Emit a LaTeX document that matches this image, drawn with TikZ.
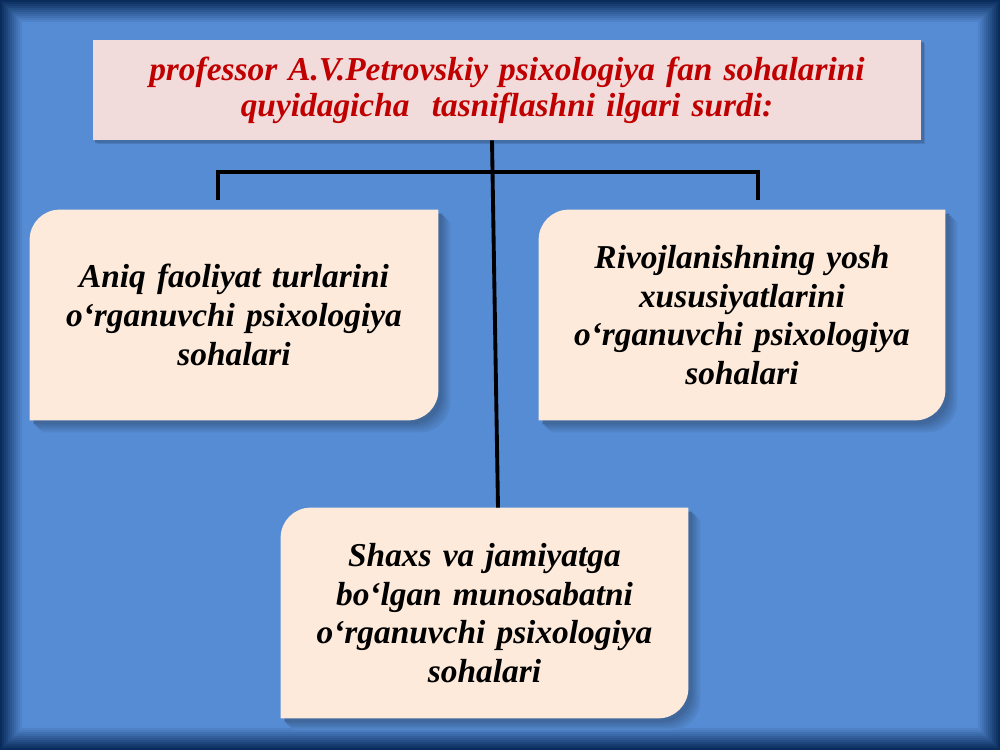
\documentclass[tikz,border=0pt]{standalone}
\usepackage{fontspec}
\setmainfont{Liberation Serif}
\usetikzlibrary{positioning,calc,backgrounds}
\pgfdeclarelayer{ramka}
\pgfsetlayers{ramka,background,main}
\definecolor{fonko}{HTML}{568CD4}
\definecolor{chetko}{HTML}{0A2C5C}
\definecolor{sarlavha}{HTML}{F2DCDB}
\definecolor{qizil}{HTML}{C00000}
\definecolor{krem}{HTML}{FDEADA}
\tikzstyle{sarlavhabox} = [rectangle, fill=sarlavha, minimum width=16.56cm, minimum height=2cm, text width=16cm, align=center, text=qizil, font=\fontsize{19}{20.5}\selectfont\bfseries\itshape]
\tikzstyle{sohabox} = [rectangle, minimum width=8.14cm, minimum height=4.2cm, text width=7.8cm, align=center, font=\fontsize{19}{22}\selectfont\bfseries\itshape]
\tikzstyle{connect} = [line width=2.2pt, black]
% krem fon: chap-yuqori va o'ng-pastki burchaklari yumaloq
\newcommand{\sohashakl}[1]{(#1.south west) -- ($(#1.north west)+(0,-0.6)$) arc[start angle=180, end angle=90, radius=0.6]
    -- (#1.north east) -- ($(#1.south east)+(0,0.6)$) arc[start angle=0, end angle=-90, radius=0.6] -- cycle}
\newcommand{\sohafon}[1]{%
  \foreach \s/\k in {0.24/94,0.2/89,0.16/84,0.12/79,0.08/74}
    \fill[fonko!\k!black, transform canvas={xshift=\s cm, yshift=-\s cm}] \sohashakl{#1};
  \fill[krem] \sohashakl{#1};}

\begin{document}
\begin{tikzpicture}
\useasboundingbox (0,0) rectangle (20,15);
% ramka
\begin{pgfonlayer}{ramka}
  \foreach \i [evaluate=\i as \pr using {int(min(100,\i*9))}] in {0,...,12}
    \fill[fonko!\pr!chetko] (0.04*\i,0.04*\i) rectangle (20-0.04*\i,15-0.04*\i);
\end{pgfonlayer}

\node (title) [sarlavhabox] at (10.14,13.2) {professor A.V.Petrovskiy psixologiya fan sohalarini\\ quyidagicha\ \ tasniflashni ilgari surdi:};
\node (aniq) [sohabox, minimum width=8.16cm] at (4.68,8.7) {Aniq faoliyat turlarini\\ o‘rganuvchi psixologiya\\ sohalari};
\node (rivoj) [sohabox, minimum width=8.12cm] at (14.84,8.7) {Rivojlanishning yosh\\ xususiyatlarini\\ o‘rganuvchi psixologiya\\ sohalari};
\node (shaxs) [sohabox] at (9.69,2.74) {Shaxs va jamiyatga\\ bo‘lgan munosabatni\\ o‘rganuvchi psixologiya\\ sohalari};

\begin{scope}[on background layer]
  \foreach \s/\k in {0.08/88,0.05/78}
    \fill[fonko!\k!black, transform canvas={xshift=\s cm, yshift=-\s cm}] (title.south west) rectangle (title.north east);
  \sohafon{aniq}
  \sohafon{rivoj}
  \sohafon{shaxs}
\end{scope}

\coordinate (chapust) at (4.36,11.56);
\coordinate (ongust) at (15.16,11.56);
\coordinate (chappast) at (4.36,11.0);
\coordinate (ongpast) at (15.16,11.0);

\draw [connect] (chappast) -- (chapust) -- (ongust) -- (ongpast);
\draw [connect] ([xshift=-0.3cm]title.south) -- ([xshift=0.27cm]shaxs.north);
\end{tikzpicture}
\end{document}
